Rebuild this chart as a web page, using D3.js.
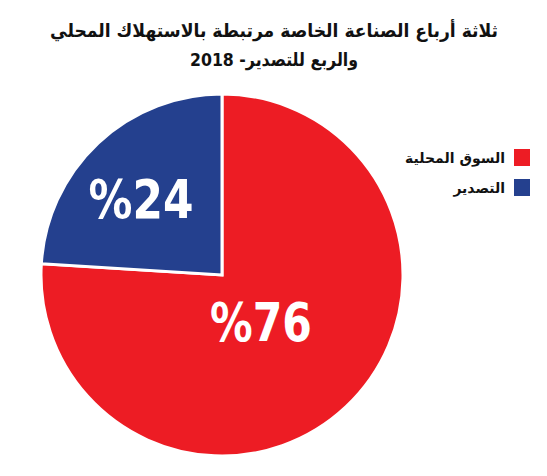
<!DOCTYPE html>
<html><head><meta charset="utf-8">
<script src="https://cdn.jsdelivr.net/npm/d3@7"></script>
<style>
html,body{margin:0;padding:0;background:#fff;}
svg{display:block;}
</style>
</head><body>
<svg id="c" width="547" height="476"></svg>
<script>
const titleLines = ["ثلاثة أرباع الصناعة الخاصة مرتبطة بالاستهلاك المحلي", "والربع للتصدير- 2018"];
const categories = ["السوق المحلية", "التصدير"];
const values = [76, 24];
const labels = ["%76", "%24"];
const colors = ["#ED1C24", "#24408E"];

const svg = d3.select("#c");
const cx = 222, cy = 275, r = 181;
const titleWidths = [448, 168];

svg.selectAll("text.title").data(titleLines).join("text")
  .attr("class","title")
  .attr("x", 274).attr("y", (d,i)=> 37 + i*29)
  .attr("text-anchor","middle")
  .attr("direction","rtl")
  .attr("textLength",(d,i)=>titleWidths[i])
  .attr("lengthAdjust","spacingAndGlyphs")
  .style("font-family","'DejaVu Sans', sans-serif")
  .style("font-weight","bold")
  .style("font-size","18.5px")
  .attr("fill","#111")
  .text(d=>d);

const data = categories.map((c,i)=>({cat:c, value:values[i], label:labels[i], color:colors[i]}));
const pie = d3.pie().sort(null).value(d=>d.value);
const arc = d3.arc().innerRadius(0).outerRadius(r);
const arcs = pie(data);

const g = svg.append("g").attr("transform",`translate(${cx},${cy})`);
g.selectAll("path").data(arcs).join("path")
  .attr("d", arc)
  .attr("fill", d=>d.data.color)
  .attr("stroke","#fff").attr("stroke-width",3);

const labelPos = [[39, 47], [-81, -76]];
const labelW = [102, 105];
g.selectAll("text.lbl").data(arcs).join("text")
  .attr("class","lbl")
  .attr("x",(d,i)=>labelPos[i][0])
  .attr("y",(d,i)=>labelPos[i][1])
  .attr("text-anchor","middle")
  .attr("dominant-baseline","central")
  .attr("direction","ltr")
  .attr("textLength",(d,i)=>labelW[i])
  .attr("lengthAdjust","spacingAndGlyphs")
  .style("font-family","'DejaVu Sans', sans-serif")
  .style("font-weight","bold")
  .style("font-size","54px")
  .attr("fill","#fff")
  .text(d=>d.data.label);

const leg = svg.append("g");
const items = leg.selectAll("g").data(data).join("g")
  .attr("transform",(d,i)=>`translate(0,${i*30})`);
items.append("rect").attr("x",514).attr("y",149).attr("width",16).attr("height",17)
  .attr("fill",d=>d.color);
items.append("text").attr("x",505).attr("y",158)
  .attr("dominant-baseline","central")
  .attr("text-anchor","start")
  .attr("direction","rtl")
  .style("font-family","'DejaVu Sans', sans-serif")
  .style("font-weight","bold")
  .style("font-size","14px")
  .attr("fill","#111")
  .text(d=>d.cat);
</script>
</body></html>
